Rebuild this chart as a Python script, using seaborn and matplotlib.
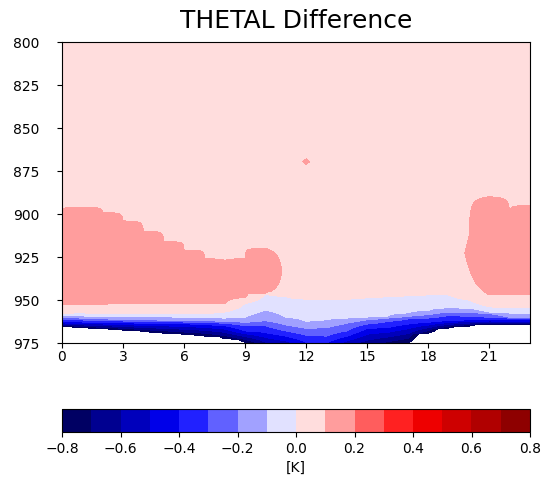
import numpy as np
import matplotlib
matplotlib.use("Agg")
import matplotlib.pyplot as plt
import seaborn as sns

nan = np.nan

# ---- data (one value per hour, pressures in hPa) ----
hours = list(range(24))

# 0.1 K contour: top / bottom of the 0.1-0.2 K layer and its peak value
sal_top = [898, 896, 899, 904, 910, 916, 921, 926, 929.5, 926, 920, nan,
           868, nan, nan, nan, nan, nan, nan, nan, 914, 890, 899, 895]
sal_bot = [952.5, 952.5, 952.5, 952, 952, 952, 952, 952, 952, 948.5, 946, nan,
           871, nan, nan, nan, nan, nan, nan, nan, 931, 947, 947, 947]
sal_peak = [0.19, 0.19, 0.19, 0.19, 0.19, 0.19, 0.19, 0.19, 0.19, 0.19, 0.18, nan,
            0.104, nan, nan, nan, nan, nan, nan, nan, 0.105, 0.19, 0.19, 0.19]

# pressure of the 0.0, -0.1, -0.2, -0.3, -0.4 K contours
p_00 = [957.7, 957.5, 958, 958, 957.6, 957.6, 958, 958, 957, 952, 946.5, 948,
        949.5, 949.5, 949.5, 948.5, 948, 947.5, 947, 947, 950, 954, 954.5, 954.5]
p_m1 = [959, 959.3, 959.5, 959.7, 959.7, 959.8, 960, 960.2, 960.5, 960, 956, 960,
        962.5, 961.6, 960.5, 960, 959.5, 957.5, 956, 954.5, 954.8, 957, 957.6, 957.6]
p_m2 = [960.3, 960.5, 961, 961.2, 961.6, 961.7, 961.8, 962, 962.5, 963, 962, 964.5,
        966.5, 966, 963.5, 961.5, 960.5, 959.5, 958.5, 957, 957, 957.8, 960, 960]
p_m3 = [961.5, 961.6, 962, 962.2, 962.5, 962.6, 962.8, 963, 963.5, 965, 965, 968,
        970.5, 971, 968, 964, 962.5, 961, 960.5, 959, 959.5, 960, 960.5, 960.5]
p_m4 = [962.6, 962.8, 963, 963.2, 963.5, 963.6, 963.8, 964.2, 965, 968, 969, 971,
        974.5, 975, 971, 966.5, 966, 964, 963, 962, 961.6, 961.6, 961.6, 961.6]
# lowest valid level (-0.8 K reached here, nothing drawn below)
p_gnd = [965.5, 966.2, 966.8, 967.5, 968.5, 969.3, 970.2, 971, 972.5, 974.5, 980, 982,
         985, 985, 982, 980, 977, 975, 969.3, 966.3, 965.2, 964, 964.5, 964.5]

bg_value = 0.08
levels = [-0.8, -0.7, -0.6, -0.5, -0.4, -0.3, -0.2, -0.1, 0.0,
          0.1, 0.2, 0.3, 0.4, 0.5, 0.6, 0.7, 0.8]
cbar_ticks = [-0.8, -0.6, -0.4, -0.2, 0.0, 0.2, 0.4, 0.6, 0.8]
yticks = [800, 825, 850, 875, 900, 925, 950, 975]
xticks = [0, 3, 6, 9, 12, 15, 18, 21]

# ---- build the field column by column from the read contour positions ----
pres = np.arange(800.0, 990.01, 0.25)
field = np.empty((len(pres), len(hours)))
for i in range(len(hours)):
    kp = [800.0]
    kv = [bg_value]
    if not np.isnan(sal_top[i]):
        kp += [sal_top[i], (sal_top[i] + sal_bot[i]) / 2, sal_bot[i]]
        kv += [0.1, sal_peak[i], 0.1]
    if p_00[i] - 3 > kp[-1]:
        kp.append(p_00[i] - 3)
        kv.append(bg_value)
    kp += [p_00[i], p_m1[i], p_m2[i], p_m3[i], p_m4[i], p_gnd[i], p_gnd[i] + 0.5, 1000]
    kv += [0.0, -0.1, -0.2, -0.3, -0.4, -0.8, -1.0, -1.0]
    field[:, i] = np.interp(pres, kp, kv)

# ---- plot ----
sns.set_style("ticks")
plt.rcParams.update({
    "font.family": ["DejaVu Sans"],
    "axes.edgecolor": "black",
    "xtick.color": "black",
    "ytick.color": "black",
    "text.color": "black",
    "axes.labelcolor": "black",
    "xtick.direction": "out",
    "ytick.direction": "out",
})

W, H = 544, 494
fig = plt.figure(figsize=(W / 100, H / 100), dpi=100)
ax = fig.add_axes([62 / W, 1 - 343 / H, 468 / W, 301 / H])
cax = fig.add_axes([62 / W, 1 - 432 / H, 468 / W, 23 / H])

cf = ax.contourf(hours, pres, field, levels=levels, cmap="seismic")
ax.set_xlim(0, 23)
ax.set_ylim(975, 800)
ax.set_xticks(xticks)
ax.set_yticks(yticks)
ax.tick_params(labelsize=10)
ax.tick_params(axis="y", pad=13)
ax.tick_params(axis="x", pad=1.5)
ax.set_title("THETAL Difference", fontsize=18, pad=10)

cb = fig.colorbar(cf, cax=cax, orientation="horizontal", ticks=cbar_ticks)
cb.set_label("[K]", fontsize=10)
cb.ax.tick_params(labelsize=10)

fig.savefig("out.png", dpi=100)
